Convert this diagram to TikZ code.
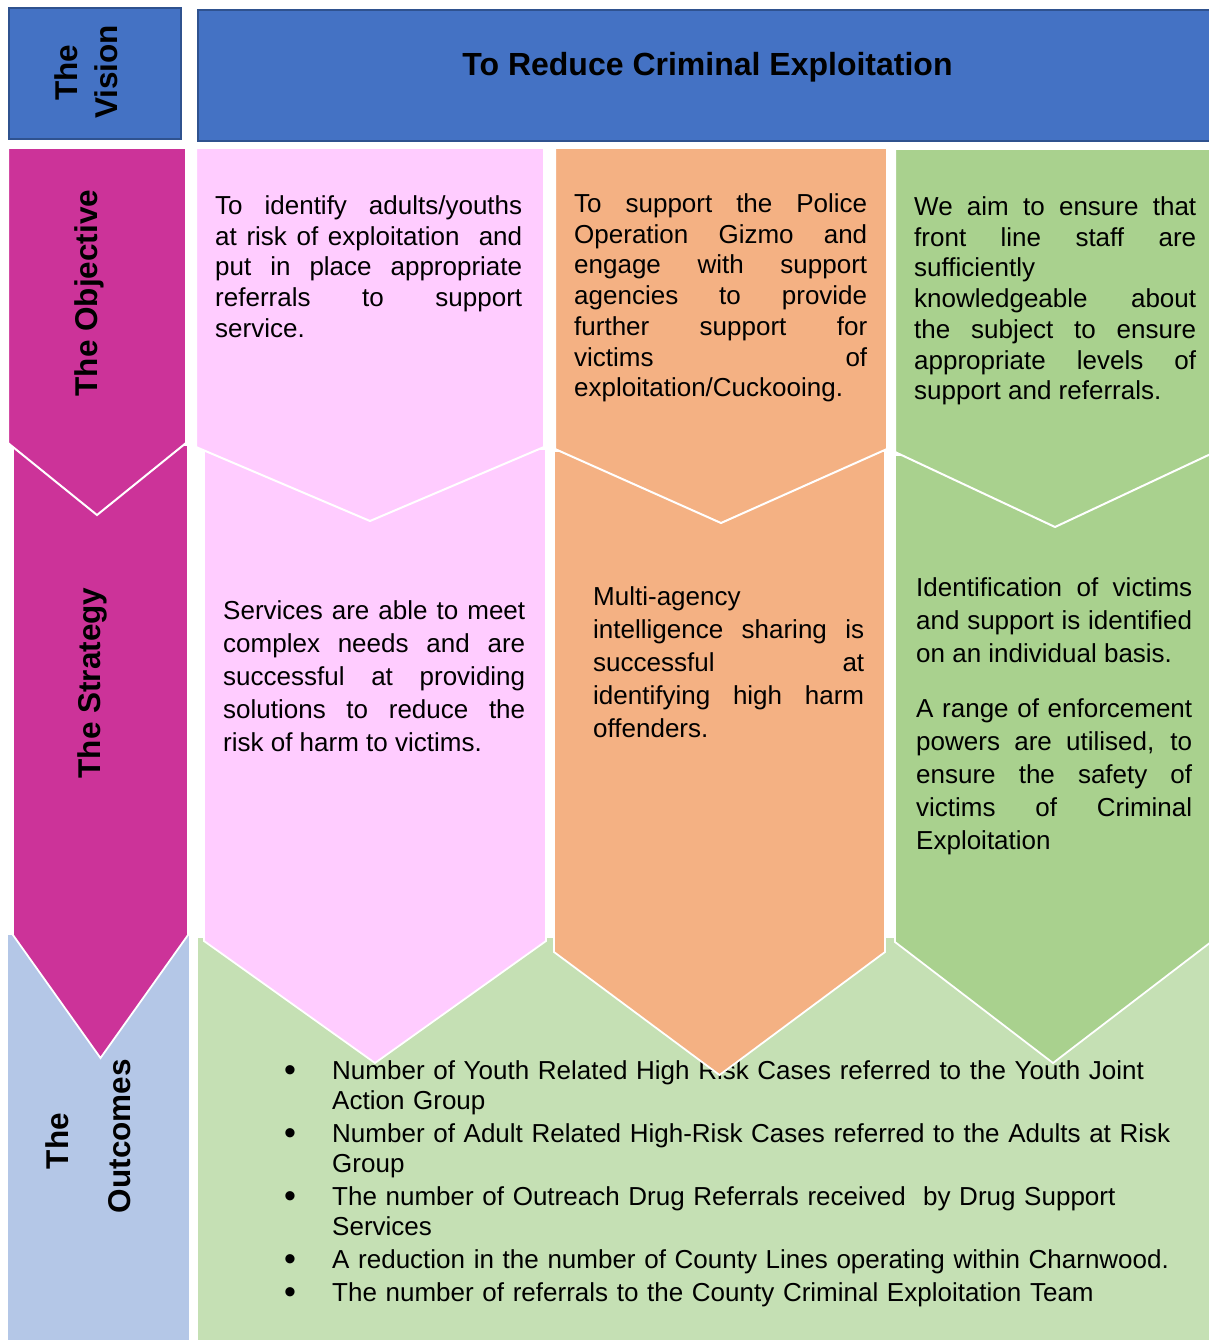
\documentclass[tikz,border=0pt]{standalone}
\usepackage{fontspec}
\setmainfont{Liberation Sans}
\tolerance=10000
\hbadness=10000
\hyphenpenalty=10000
\exhyphenpenalty=10000
\definecolor{visblue}{HTML}{4472C4}
\definecolor{visborder}{HTML}{2F528F}
\definecolor{magc}{HTML}{CC3399}
\definecolor{pinkc}{HTML}{FFCCFF}
\definecolor{orangec}{HTML}{F4B183}
\definecolor{greenc}{HTML}{A9D18E}
\definecolor{outgreen}{HTML}{C5E0B4}
\definecolor{outblue}{HTML}{B4C7E7}
\begin{document}
\begin{tikzpicture}[x=1pt,y=-1pt,
  visbox/.style={fill=visblue,draw=visborder,line width=2pt},
  objshape/.style={draw=white,line width=2pt},
  stratshape/.style={draw=white,line width=1.8pt},
  bodya/.style={font=\fontsize{26}{30.7}\selectfont,align=justify,inner sep=0pt,anchor=base west},
  bodyb/.style={font=\fontsize{26}{33.1}\selectfont,align=justify,inner sep=0pt,anchor=base west},
  bultext/.style={font=\fontsize{26}{30.5}\selectfont,align=left,inner sep=0pt,anchor=base west,text width=870pt},
  bulmark/.style={font=\fontsize{34}{34}\selectfont,inner sep=0pt,anchor=base},
  lbl/.style={font=\fontsize{31.5}{38}\selectfont\bfseries,inner sep=0pt,anchor=base,rotate=90},
]
\useasboundingbox (0,0) rectangle (1208,1340);

% ---- Vision row ----
\draw[visbox] (9,8) rectangle (181,139);
\draw[visbox] (198,10) rectangle (1216,141);
\node[lbl] (vthe) at (77,73) {The};
\node[lbl] (vvision) at (117,72) {Vision};
\node[font=\fontsize{32}{38}\selectfont\bfseries,inner sep=0pt,anchor=base] (title) at (707.5,76) {To Reduce Criminal Exploitation};

% ---- Outcomes backgrounds ----
\fill[outblue] (8,935) rectangle (189,1345);
\fill[outgreen] (198,938) rectangle (1216,1345);

% ---- Outcomes text (behind the chevrons) ----
\node[bulmark] (b1) at (290,1081) {•};
\node[bultext] (t1) at (332,1079) {Number of Youth Related High Risk Cases referred to the Youth Joint\\Action Group};
\node[bulmark] (b2) at (290,1144) {•};
\node[bultext] (t2) at (332,1142) {Number of Adult Related High-Risk Cases referred to the Adults at Risk\\Group};
\node[bulmark] (b3) at (290,1207) {•};
\node[bultext] (t3) at (332,1205) {The number of Outreach Drug Referrals received\ \ by Drug Support\\Services};
\node[bulmark] (b4) at (290,1270) {•};
\node[bultext] (t4) at (332,1268) {A reduction in the number of County Lines operating within Charnwood.};
\node[bulmark] (b5) at (290,1303) {•};
\node[bultext] (t5) at (332,1301) {The number of referrals to the County Criminal Exploitation Team};

% ---- Strategy chevrons ----
\filldraw[stratshape,fill=magc] (13,445) -- (188,445) -- (188,935) -- (100.5,1058) -- (13,935) -- cycle;
\filldraw[stratshape,fill=pinkc] (204,449) -- (546,449) -- (546,941) -- (375,1063) -- (204,941) -- cycle;
\filldraw[stratshape,fill=orangec] (554,451) -- (885,451) -- (885,952) -- (719.5,1075) -- (554,952) -- cycle;
\filldraw[stratshape,fill=greenc] (895,455) -- (1211,455) -- (1211,942) -- (1053,1063) -- (895,942) -- cycle;

% ---- Objective chevrons ----
\filldraw[objshape,fill=magc] (8,148) -- (186,148) -- (186,443) -- (97,515) -- (8,443) -- cycle;
\filldraw[objshape,fill=pinkc] (196,148) -- (544,148) -- (544,447) -- (370,521) -- (196,447) -- cycle;
\filldraw[objshape,fill=orangec] (555,148) -- (887,148) -- (887,449) -- (721,523) -- (555,449) -- cycle;
\filldraw[objshape,fill=greenc] (895,149) -- (1215,149) -- (1215,452) -- (1055,527) -- (895,452) -- cycle;

% ---- Row labels ----
\node[lbl] (lobj) at (97,293) {The Objective};
\node[lbl] (lstrat) at (100,683) {The Strategy};
\node[lbl] (lothe) at (68,1141) {The};
\node[lbl] (loout) at (130,1136) {Outcomes};

% ---- Objective texts ----
\node[bodya,text width=307pt] (o1) at (215,214.5) {To identify adults/youths\linebreak at risk of exploitation\ \ and\linebreak put in place appropriate\linebreak referrals to support\linebreak service.};
\node[bodya,text width=293pt] (o2) at (574,212.5) {To support the Police\linebreak Operation Gizmo and\linebreak engage with support\linebreak agencies to provide\linebreak further support for\linebreak victims of\linebreak exploitation/Cuckooing.};
\node[bodya,text width=282pt] (o3) at (914,215.5) {We aim to ensure that\linebreak front line staff are\linebreak sufficiently\linebreak knowledgeable about\linebreak the subject to ensure\linebreak appropriate levels of\linebreak support and referrals.};

% ---- Strategy texts ----
\node[bodyb,text width=302pt] (s1) at (223,619.5) {Services are able to meet\linebreak complex needs and are\linebreak successful at providing\linebreak solutions to reduce the\linebreak risk of harm to victims.};
\node[bodyb,text width=271pt] (s2) at (593,605.5) {Multi-agency\linebreak intelligence sharing is\linebreak successful at\linebreak identifying high harm\linebreak offenders.};
\node[bodyb,text width=276pt] (s3a) at (916,596.5) {Identification of victims\linebreak and support is identified\linebreak on an individual basis.};
\node[bodyb,text width=276pt] (s3b) at (916,717.5) {A range of enforcement\linebreak powers are utilised, to\linebreak ensure the safety of\linebreak victims of Criminal\linebreak Exploitation};
\end{tikzpicture}
\end{document}
